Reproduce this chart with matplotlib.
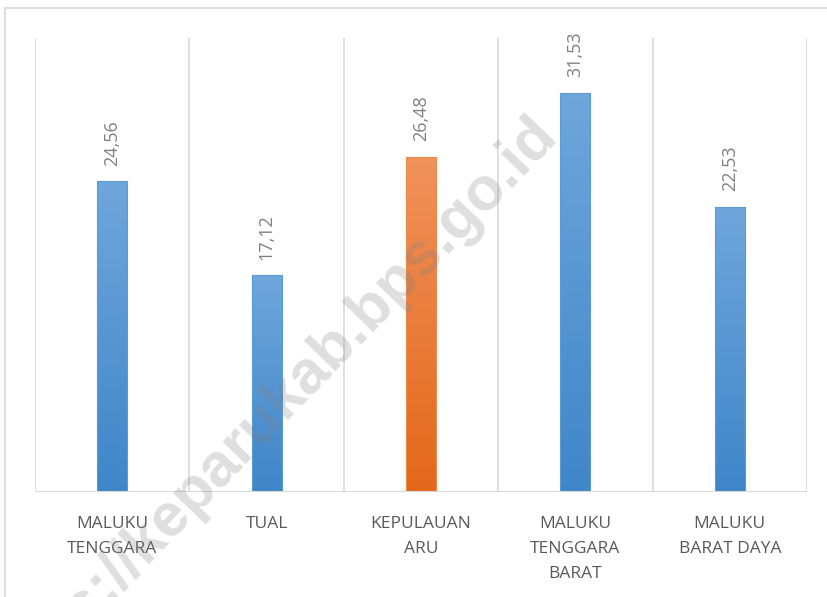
import numpy as np
import matplotlib.pyplot as plt
from matplotlib.patches import Rectangle
from matplotlib.colors import LinearSegmentedColormap

# data
categories = ["MALUKU\nTENGGARA", "TUAL", "KEPULAUAN\nARU", "MALUKU\nTENGGARA\nBARAT", "MALUKU\nBARAT DAYA"]
values = [24.56, 17.12, 26.48, 31.53, 22.53]
highlight = [False, False, True, False, False]

blue_grad = LinearSegmentedColormap.from_list("blue", ["#3f86c9", "#6fa6dc"])
orange_grad = LinearSegmentedColormap.from_list("orange", ["#e3681a", "#f0925c"])

fig = plt.figure(figsize=(8.27, 5.97), dpi=100)
plt.rcParams['font.family'] = ['Open Sans', 'DejaVu Sans']

# outer chart frame (cut off at right and bottom like the screenshot)
fig.patches.append(Rectangle((5 / 827, -0.1), 1.2, (597 - 8) / 597 + 0.1,
                             transform=fig.transFigure, fill=False,
                             edgecolor="#d9d9d9", linewidth=1.2))

ax = fig.add_axes([35 / 827, (597 - 492) / 597, (807 - 35) / 827, (492 - 38) / 597])

x = np.arange(len(values))
width = 0.195
bars = ax.bar(x, values, width=width, color="none", edgecolor="none", zorder=2)

grad = np.linspace(0, 1, 256).reshape(-1, 1)
for b, v, hl in zip(bars, values, highlight):
    cmap = orange_grad if hl else blue_grad
    im = ax.imshow(grad, cmap=cmap, aspect="auto", origin="lower",
                   extent=[b.get_x(), b.get_x() + b.get_width(), 0, v], zorder=2)
    im.set_clip_path(b)
    ax.add_patch(Rectangle((b.get_x(), 0), b.get_width(), v, fill=False,
                           edgecolor="#f08a4b" if hl else "#5b9bd5", linewidth=0.8, zorder=3))
    ax.text(b.get_x() + b.get_width() / 2, v + 1.25, f"{v:.2f}".replace(".", ","),
            rotation=90, ha="center", va="bottom", fontsize=13, color="#808080")

ax.set_xlim(-0.5, len(values) - 0.5)
ax.set_ylim(0, 35.9)

for gx in np.arange(-0.5, len(values), 1.0):
    ax.axvline(gx, color="#d9d9d9", linewidth=1.2, zorder=1)
ax.axhline(0, color="#d9d9d9", linewidth=1.5, zorder=4)

ax.set_xticks(x)
ax.set_xticklabels(categories, fontsize=12.5, color="#595959", linespacing=1.75)
ax.tick_params(axis="x", length=0, pad=17)
ax.set_yticks([])
for s in ax.spines.values():
    s.set_visible(False)

# watermark
fig.text(270 / 827, 1 - 412 / 597, "https://keparukab.bps.go.id", rotation=46,
         ha="center", va="center", fontsize=44, fontweight="bold",
         color="#7f7f7f", alpha=0.25, family="Liberation Sans", zorder=10)

fig.savefig("out.png", dpi=100)
